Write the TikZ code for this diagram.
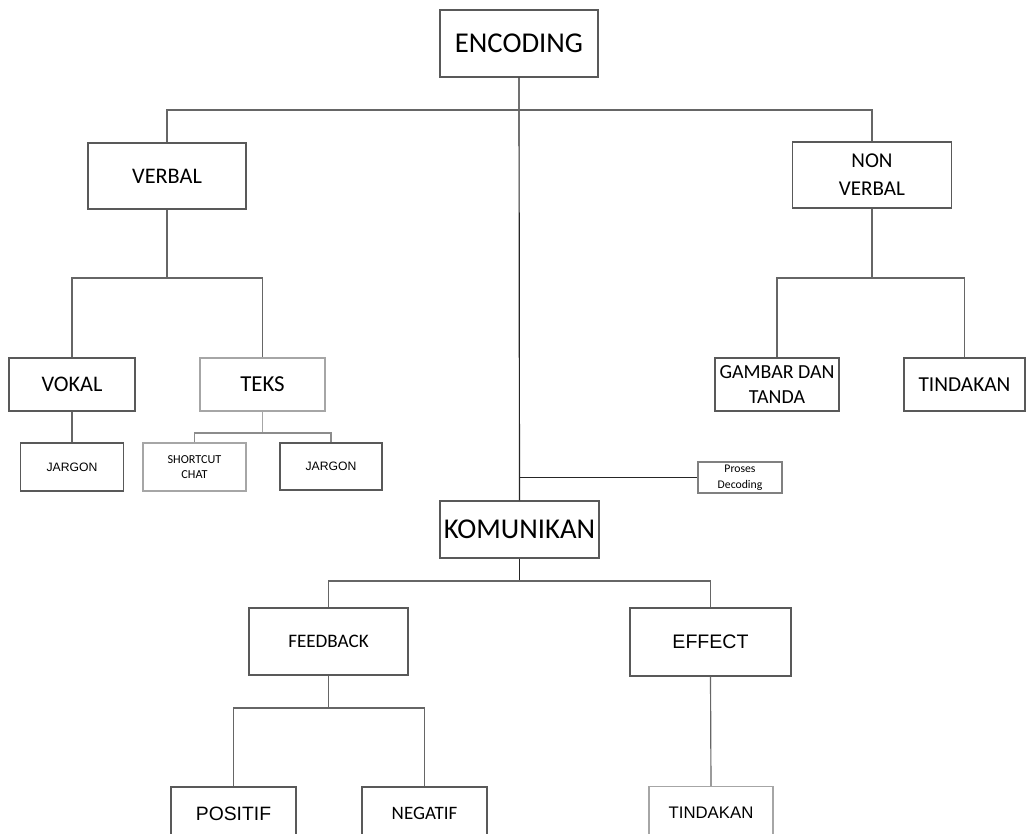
\documentclass[tikz,border=0pt]{standalone}
\usepackage{fontspec}
\setmainfont{Carlito}
\newfontfamily\arialfont{Liberation Sans}
\usetikzlibrary{positioning, calc}
\newdimen\px
\px=0.03cm
\tikzset{
  box/.style={draw=black!65, line width=1pt, fill=white, align=center, inner sep=2pt,
    minimum width=#1},
  box/.default=125\px,
  lite/.style={draw=black!35},
  link/.style={draw=black!60, line width=1pt},
  mainlink/.style={draw=black!85, line width=1pt},
}

\begin{document}
\begin{tikzpicture}[x=1\px, y=-1\px]
    \clip (0,0) rectangle (1026,834);
    \fill[white] (0,0) rectangle (1026,834);
    % top level
    \node[box=158\px, minimum height=67\px, font=\fontsize{24.5}{26}\selectfont] (enc) at (519,43.5) {ENCODING};
    \node[box=158\px, minimum height=66\px, font=\fontsize{19}{22}\selectfont] (verbal) at (167,176) {VERBAL};
    \node[box=159\px, minimum height=66\px, font=\fontsize{18}{24}\selectfont] (nonverbal) at (872,175) {NON\\VERBAL};
    % verbal branch
    \node[box=126\px, minimum height=53\px, font=\fontsize{19}{24}\selectfont] (vokal) at (72,384.5) {VOKAL};
    \node[box, lite, minimum height=53\px, font=\fontsize{19.5}{24}\selectfont] (teks) at (262.5,384.5) {TEKS};
    \node[box=103\px, minimum height=48\px, font=\arialfont\fontsize{10.4}{13}\selectfont] (jargonA) at (72,467) {JARGON};
    \node[box=103\px, lite, minimum height=48\px, font=\fontsize{10.4}{13.5}\selectfont] (shortcut) at (194.5,467) {SHORTCUT\\CHAT};
    \node[box=102\px, minimum height=47\px, font=\arialfont\fontsize{10.4}{13}\selectfont] (jargonB) at (331,466.5) {JARGON};
    % non verbal branch
    \node[box=124\px, minimum height=53\px, font=\fontsize{17}{22}\selectfont] (gambar) at (777,384.5) {GAMBAR DAN\\TANDA};
    \node[box=121\px, minimum height=53\px, font=\fontsize{18.2}{24}\selectfont] (tindakanA) at (964.5,384.5) {TINDAKAN};
    \node[box=84\px, lite, draw=black!50, minimum height=31\px, inner sep=1pt, font=\fontsize{10}{13.5}\selectfont] (proses) at (740,477.5) {Proses\\Decoding};
    % komunikan
    \node[box=159\px, minimum height=57\px, font=\fontsize{24.5}{26}\selectfont] (kom) at (519.5,529.5) {KOMUNIKAN};
    \node[box=159\px, minimum height=67\px, font=\fontsize{16.3}{18}\selectfont] (feedback) at (328.5,641.5) {FEEDBACK};
    \node[box=161\px, minimum height=68\px, font=\arialfont\fontsize{16.7}{20}\selectfont] (effect) at (710.5,642) {EFFECT};
    \node[box, minimum height=53\px, font=\arialfont\fontsize{16.5}{20}\selectfont] (positif) at (233.5,813.5) {POSITIF};
    \node[box, minimum height=53\px, font=\fontsize{16.2}{18}\selectfont] (negatif) at (424.5,813.5) {NEGATIF};
    \node[box=124\px, lite, minimum height=53\px, font=\arialfont\fontsize{14.3}{18}\selectfont] (tindakanB) at (711,813) {TINDAKAN};
    % bus points
    \coordinate (bus1) at (519,110);
    \coordinate (bus2) at (167,278);
    \coordinate (bus3) at (262.5,433);
    \coordinate (bus4) at (872,278);
    \coordinate (bus5) at (519,477.5);
    \coordinate (bus6) at (519.5,581);
    \coordinate (bus7) at (328.5,708);
    % connectors
    \draw[mainlink] (enc.south) -- (kom.north);
    \draw[link] (verbal.north) |- (bus1) -| (nonverbal.north);
    \draw[link] (verbal.south) -- (bus2);
    \draw[link] (vokal.north) |- (bus2) -| (teks.north);
    \draw[link] (vokal.south) -- (jargonA.north);
    \draw[link, black!35] (teks.south) -- (bus3);
    \draw[link, black!45] (shortcut.north) |- (bus3) -| (jargonB.north);
    \draw[link] (nonverbal.south) -- (bus4);
    \draw[link] (gambar.north) |- (bus4) -| (tindakanA.north);
    \draw[mainlink] (bus5) -- (proses.west);
    \draw[mainlink] (kom.south) -- (bus6);
    \draw[link] (feedback.north) |- (bus6) -| (effect.north);
    \draw[link] (feedback.south) -- (bus7);
    \draw[link] (positif.north) |- (bus7) -| (negatif.north);
    \draw[link] (effect.south) -- (tindakanB.north);
\end{tikzpicture}
\end{document}
